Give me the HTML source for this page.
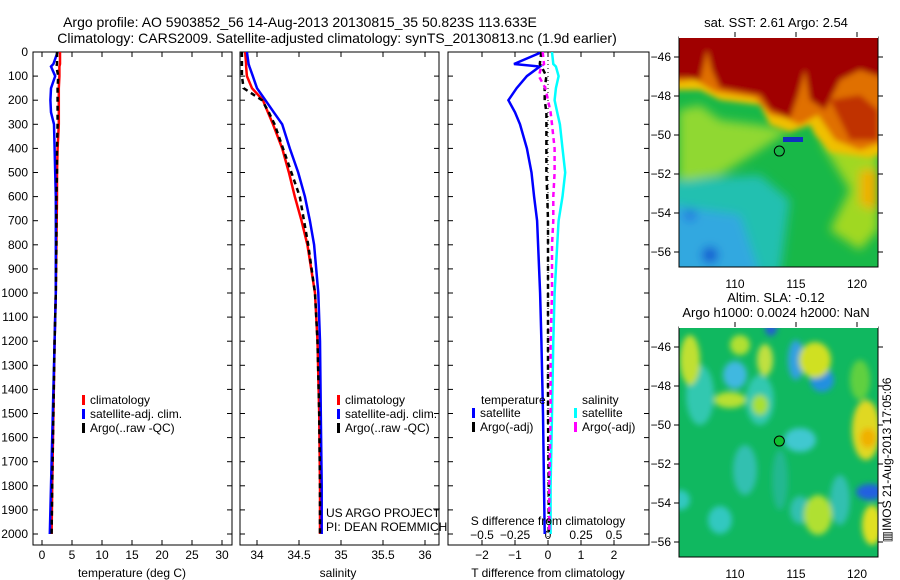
<!DOCTYPE html>
<html><head><meta charset="utf-8">
<style>
html,body{margin:0;padding:0;background:#fff;}
svg{display:block;font-family:"Liberation Sans",sans-serif;}
text{font-size:12px;fill:#000;}
</style></head>
<body>
<svg id="chart" width="900" height="580" viewBox="0 0 900 580" xmlns="http://www.w3.org/2000/svg">
<defs>
<clipPath id="c1"><rect x="33" y="52" width="199" height="493"/></clipPath>
<clipPath id="c2"><rect x="240" y="52" width="199" height="493"/></clipPath>
<clipPath id="c3"><rect x="448" y="52" width="201" height="493"/></clipPath>
<clipPath id="m1"><rect x="679" y="37" width="199" height="230"/></clipPath>
<clipPath id="m2"><rect x="679" y="327" width="199" height="230"/></clipPath>
<filter id="bl" x="-20%" y="-20%" width="140%" height="140%"><feGaussianBlur stdDeviation="3"/></filter>
<filter id="bl2" x="-20%" y="-20%" width="140%" height="140%"><feGaussianBlur stdDeviation="5"/></filter>
</defs>
<text x="300" y="27" text-anchor="middle" style="font-size:14px">Argo profile: AO 5903852_56 14-Aug-2013 20130815_35 50.823S 113.633E</text>
<text x="337" y="43" text-anchor="middle" style="font-size:14px">Climatology: CARS2009. Satellite-adjusted climatology: synTS_20130813.nc (1.9d earlier)</text>
<g id="g"></g>
</svg>
<script>
const depths = [0,50,60,100,150,200,250,300,400,500,600,700,800,1000,1200,1500,1800,2000];
const climT  = [3.0,3.0,2.9,2.9,2.8,2.8,2.8,2.8,2.6,2.5,2.5,2.45,2.4,2.3,2.1,1.9,1.7,1.6];
const satT   = [2.6,1.9,1.5,2.2,1.5,1.4,1.5,2.0,2.1,2.2,2.3,2.3,2.3,2.3,2.1,1.8,1.5,1.3];
const argoT  = [2.5,2.5,2.4,2.7,2.6,2.6,2.6,2.6,2.5,2.5,2.4,2.4,2.4,2.3,2.1,1.9,1.7,1.6];
const climS  = [33.86,33.87,33.87,33.88,33.94,34.07,34.13,34.19,34.30,34.38,34.45,34.53,34.60,34.69,34.72,34.74,34.75,34.75];
const satS   = [33.88,33.90,33.91,33.95,34.00,34.10,34.20,34.30,34.39,34.49,34.57,34.63,34.68,34.73,34.75,34.76,34.77,34.77];
const argoS  = [33.82,33.82,33.82,33.82,33.84,34.06,34.14,34.21,34.31,34.41,34.51,34.56,34.61,34.69,34.72,34.74,34.75,34.75];
const dT_sat = [-0.18,-1.03,-0.25,-0.64,-0.95,-1.2,-1.0,-0.85,-0.64,-0.5,-0.42,-0.33,-0.3,-0.24,-0.2,-0.15,-0.12,-0.1];
const dT_argo= [-0.2,-0.25,-0.2,-0.05,-0.1,-0.1,-0.05,-0.05,-0.05,-0.05,-0.02,0,0,0,0,0,0.02,0.02];
const dS_sat = [0.03,0.04,0.06,0.08,0.06,0.05,0.07,0.09,0.11,0.13,0.11,0.08,0.07,0.05,0.04,0.03,0.02,0.02];
const dS_argo= [-0.04,-0.03,-0.05,-0.07,-0.02,0,0.02,0.03,0.05,0.05,0.04,0.04,0.03,0.03,0.02,0.02,0.01,0.01];
const depthTicks = [0,100,200,300,400,500,600,700,800,900,1000,1100,1200,1300,1400,1500,1600,1700,1800,1900,2000];
const tTicks = [0,5,10,15,20,25,30];
const sTicks = [34,34.5,35,35.5,36];
const sTickLabels = ["34","34.5","35","35.5","36"];
const dTTicks = [-2,-1,0,1,2];
const dSTicks = [-0.5,-0.25,0,0.25,0.5];
const dSTickLabels = ["\u22120.5","\u22120.25","0","0.25","0.5"];
const latTicks = [-46,-48,-50,-52,-54,-56];
const lonTicks = [110,115,120];
const argoLon = 113.633, argoLat = -50.823;

const NS="http://www.w3.org/2000/svg";
const G=document.getElementById('g');
function el(tag,attrs,parent,txt){const e=document.createElementNS(NS,tag);for(const k in attrs)e.setAttribute(k,attrs[k]);if(txt!==undefined)e.textContent=txt;(parent||G).appendChild(e);return e;}
const yD = d => 52 + d*0.241;
const xT = v => 42 + v*6;
const xS = v => 257 + (v-34)*84;
const xdT = v => 548 + v*33;
const xdS = v => 548 + v*132;
const mx = lon => 735 + (lon-110)*12.2;
const my1 = lat => 57 + (-46-lat)*19.5;
const my2 = lat => 347 + (-46-lat)*19.5;

function line(vals,xf,color,w,dash,clip,name){
  const pts=vals.map((v,i)=>xf(v).toFixed(1)+','+yD(depths[i]).toFixed(1)).join(' ');
  const p=el('polyline',{points:pts,fill:'none',stroke:color,'stroke-width':w,'clip-path':'url(#'+clip+')'});
  if(dash)p.setAttribute('stroke-dasharray',dash);
  
  
}
function frame(x0,x1,name){
  const r=el('rect',{x:x0,y:52,width:x1-x0,height:493,fill:'none',stroke:'#000','stroke-width':1});
  
  
  depthTicks.forEach(d=>{
    el('line',{x1:x0,x2:x0+5,y1:yD(d),y2:yD(d),stroke:'#000'});
    el('line',{x1:x1-5,x2:x1,y1:yD(d),y2:yD(d),stroke:'#000'});
  });
}
frame(33,232,'temperature-panel');
depthTicks.forEach(d=>{const t=el('text',{x:28,y:yD(d)+4,'text-anchor':'end'},G,String(d));

});
tTicks.forEach(v=>{el('line',{x1:xT(v),x2:xT(v),y1:52,y2:57,stroke:'#000'});el('line',{x1:xT(v),x2:xT(v),y1:540,y2:545,stroke:'#000'});
const t=el('text',{x:xT(v),y:559,'text-anchor':'middle'},G,String(v));

});
line(climT,xT,'#f00',2.5,null,'c1','temperature-climatology-line');
line(satT,xT,'#00f',2.5,null,'c1','temperature-satellite-line');
line(argoT,xT,'#000',2.5,'5,4','c1','temperature-argo-line');
const t1=el('text',{x:132,y:577,'text-anchor':'middle'},G,'temperature (deg C)');


frame(240,439,'salinity-panel');
sTicks.forEach((v,i)=>{el('line',{x1:xS(v),x2:xS(v),y1:52,y2:57,stroke:'#000'});el('line',{x1:xS(v),x2:xS(v),y1:540,y2:545,stroke:'#000'});
const t=el('text',{x:xS(v),y:559,'text-anchor':'middle'},G,sTickLabels[i]);

});
line(climS,xS,'#f00',2.5,null,'c2','salinity-climatology-line');
line(satS,xS,'#00f',2.5,null,'c2','salinity-satellite-line');
line(argoS,xS,'#000',2.5,'5,4','c2','salinity-argo-line');
const t2=el('text',{x:338,y:577,'text-anchor':'middle'},G,'salinity');


function legend(x,y,items,name){
  items.forEach((it,i)=>{
    el('rect',{x:x,y:y+i*14-9,width:3,height:10,fill:it[0]});
    const t=el('text',{x:x+8,y:y+i*14},G,it[1]);
    
    
  });
}
const leg=[['#f00','climatology'],['#00f','satellite-adj. clim.'],['#000','Argo(..raw -QC)']];
legend(82,404,leg,'temperature-legend');
legend(337,404,leg,'salinity-legend');
const p1=el('text',{x:326,y:517},G,'US ARGO PROJECT');


const p2=el('text',{x:326,y:531},G,'PI: DEAN ROEMMICH');


frame(448,649,'difference-panel');
el('line',{x1:548,x2:548,y1:52,y2:545,stroke:'#000','stroke-dasharray':'1,3'});
dTTicks.forEach(v=>{el('line',{x1:xdT(v),x2:xdT(v),y1:52,y2:57,stroke:'#000'});el('line',{x1:xdT(v),x2:xdT(v),y1:540,y2:545,stroke:'#000'});
const t=el('text',{x:xdT(v),y:559,'text-anchor':'middle'},G,v<0?'\u2212'+(-v):String(v));

});
dSTicks.forEach((v,i)=>{const t=el('text',{x:xdS(v),y:539,'text-anchor':'middle'},G,dSTickLabels[i]);

});
line(dT_sat,xdT,'#00f',2.5,null,'c3','t-diff-satellite-line');
line(dS_sat,xdS,'#0ff',2.5,null,'c3','s-diff-satellite-line');
line(dT_argo,xdT,'#000',2.5,'5,4','c3','t-diff-argo-line');
line(dS_argo,xdS,'#f0f',2.5,'5,4','c3','s-diff-argo-line');
const s1=el('text',{x:548,y:525,'text-anchor':'middle'},G,'S difference from climatology');


const s2=el('text',{x:548,y:577,'text-anchor':'middle'},G,'T difference from climatology');


const lh1=el('text',{x:481,y:404},G,'temperature');


const lh2=el('text',{x:582,y:404},G,'salinity');


legend(472,417,[['#00f','satellite'],['#000','Argo(-adj)']],'t-diff-legend');
legend(574,417,[['#0ff','satellite'],['#f0f','Argo(-adj)']],'s-diff-legend');

function mapAxes(top,myf,name){
  const r=el('rect',{x:679,y:top,width:199,height:230,fill:'none',stroke:'#000'});
  
  
  el('line',{x1:679,x2:878,y1:top,y2:top,stroke:'#fff','stroke-width':2});
  latTicks.forEach(l=>{el('line',{x1:674,x2:679,y1:myf(l),y2:myf(l),stroke:'#000'});el('line',{x1:878,x2:883,y1:myf(l),y2:myf(l),stroke:'#000'});
  const t=el('text',{x:671,y:myf(l)+4,'text-anchor':'end'},G,'\u2212'+(-l));
  
  });
  lonTicks.forEach(l=>{el('line',{x1:mx(l),x2:mx(l),y1:top-5,y2:top,stroke:'#000'});
  const t=el('text',{x:mx(l),y:top+251,'text-anchor':'middle'},G,String(l));
  
  });
}
const g1=el('g',{'clip-path':'url(#m1)'});


el('rect',{x:679,y:37,width:199,height:230,fill:'#18b848'},g1);
const gb=el('g',{filter:'url(#bl2)'},g1);
el('polygon',{points:'670,180 760,175 790,200 780,275 670,275',fill:'#20c0b0'},gb);
el('polygon',{points:'670,205 740,215 760,275 670,275',fill:'#30a8e0'},gb);
el('circle',{cx:710,cy:255,r:8,fill:'#1050d0'},gb);
el('circle',{cx:690,cy:215,r:6,fill:'#2070e0'},gb);
el('polygon',{points:'679,110 700,105 720,120 760,125 790,130 760,150 720,175 690,180 679,180',fill:'#90d830'},gb);
el('polygon',{points:'820,140 878,150 878,230 860,250 830,230 850,190',fill:'#a0d820'},gb);
el('polygon',{points:'860,170 878,170 878,210 860,205',fill:'#f0b000'},gb);
const gr=el('g',{filter:'url(#bl)'},g1);
el('polygon',{points:'670,30 890,30 890,150 870,158 830,152 815,135 810,125 790,132 770,125 760,105 720,100 700,90 679,90 670,90',fill:'#f0c000'},gr);
el('polygon',{points:'670,30 890,30 890,140 860,150 835,140 818,115 800,125 785,118 770,115 755,98 715,92 695,80 679,82 670,82',fill:'#e07000'},gr);
el('polygon',{points:'670,30 890,30 890,80 860,70 840,80 825,110 810,100 805,70 798,95 790,118 770,110 760,95 720,88 712,70 707,50 700,80 690,78 670,78',fill:'#a00000'},gr);
el('polygon',{points:'830,100 860,95 878,110 878,140 850,140',fill:'#c03000'},gr);
el('rect',{x:783,y:137,width:20,height:5,fill:'#1030c0'},g1);
mapAxes(37,my1,'sst-map-frame');
el('circle',{cx:mx(argoLon),cy:my1(argoLat),r:5,fill:'none',stroke:'#000'});
const mt1=el('text',{x:776,y:27,'text-anchor':'middle',style:'font-size:13px'},G,'sat. SST: 2.61 Argo: 2.54');


const g2=el('g',{'clip-path':'url(#m2)'});


el('rect',{x:679,y:327,width:199,height:230,fill:'#10b860'},g2);
const gs=el('g',{filter:'url(#bl)'},g2);
[[700,395,14,30,'#30c8b0'],[760,400,14,25,'#30c8b0'],[735,375,12,14,'#40b8e0'],[796,360,8,20,'#30a0e0'],[822,380,12,12,'#2090e0'],
 [800,440,16,12,'#40c8d0'],[745,470,12,25,'#30c0b0'],[720,520,12,14,'#30c8c0'],[680,500,10,10,'#30c8c0'],[800,510,10,14,'#30c0b0'],
 [840,500,10,25,'#30c0b0'],[780,480,8,30,'#20b890'],[690,360,10,25,'#c0e030'],[740,345,10,10,'#b0e030'],[765,360,8,16,'#c0e040'],
 [730,400,16,8,'#b8e030'],[815,360,16,18,'#d0e020'],[760,405,8,10,'#a8e030'],[866,430,14,30,'#e0d820'],[868,438,8,10,'#f0b000'],
 [870,492,14,8,'#2060e0'],[872,525,10,20,'#e0e020'],[818,515,14,20,'#b0e030'],[771,328,6,8,'#2060d0'],[860,380,10,20,'#60d040']]
 .forEach(b=>el('ellipse',{cx:b[0],cy:b[1],rx:b[2],ry:b[3],fill:b[4]},gs));
mapAxes(327,my2,'sla-map-frame');
el('circle',{cx:mx(argoLon),cy:my2(argoLat),r:5,fill:'#10c030',stroke:'#000'});
const mt2=el('text',{x:776,y:302,'text-anchor':'middle',style:'font-size:13px'},G,'Altim. SLA: -0.12');


const mt3=el('text',{x:776,y:317,'text-anchor':'middle',style:'font-size:13px'},G,'Argo h1000: 0.0024 h2000: NaN');


const im=el('text',{x:0,y:0,transform:'translate(891,460) rotate(-90)','text-anchor':'middle'},G,'\u25A5IMOS 21-Aug-2013 17:05:06');


</script>
</body></html>
